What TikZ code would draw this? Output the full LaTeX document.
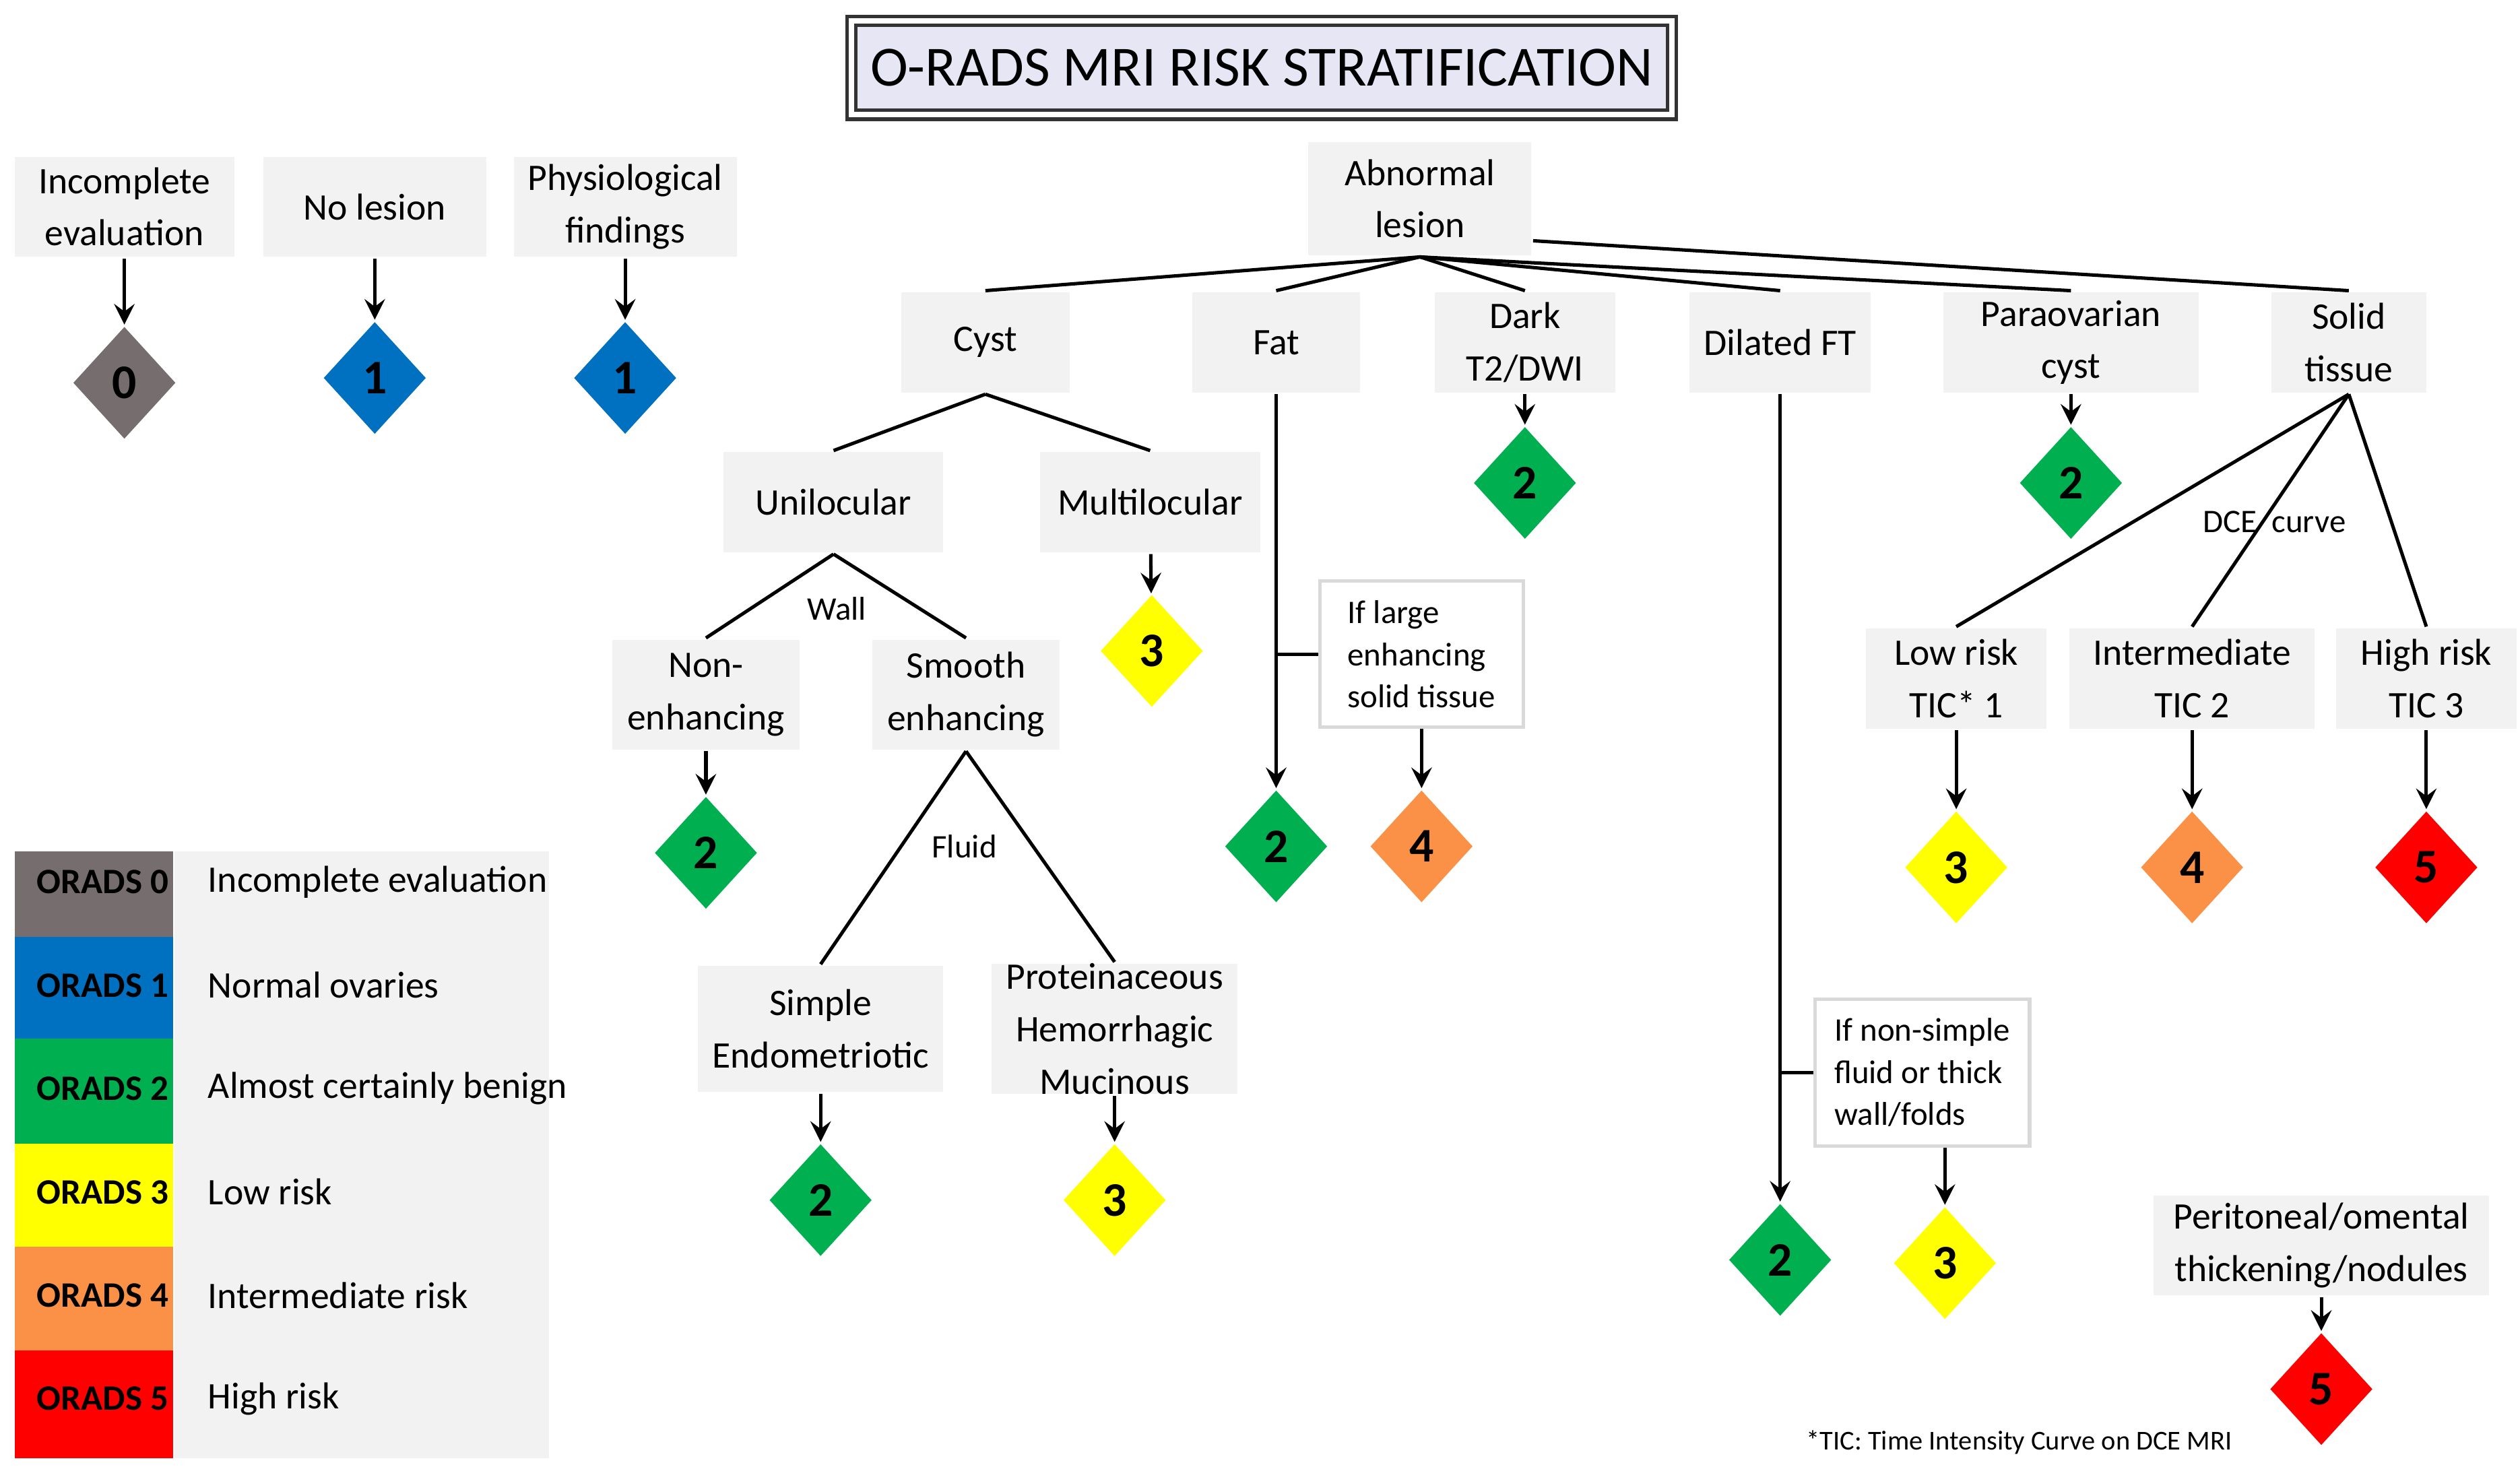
\documentclass[tikz,border=0pt]{standalone}
\usepackage{fontspec}
\setmainfont{Carlito}
\usetikzlibrary{arrows,shapes.geometric,positioning}
\definecolor{boxgray}{RGB}{242,242,242}
\definecolor{rads0}{RGB}{118,110,110}
\definecolor{rads1}{RGB}{0,112,192}
\definecolor{rads2}{RGB}{0,176,80}
\definecolor{rads3}{RGB}{255,255,0}
\definecolor{rads4}{RGB}{250,145,70}
\definecolor{rads5}{RGB}{255,0,0}
\definecolor{titlefill}{RGB}{230,230,245}
\begin{document}
\begin{tikzpicture}[x=0.1mm,y=-0.1mm,>=stealth,semithick,
    box/.style={fill=boxgray,align=center,font=\fontsize{6.6}{9.2}\selectfont,minimum height=6.2mm,inner sep=0pt},
    note/.style={draw=black!15,fill=white,align=left,font=\fontsize{5.8}{7.4}\selectfont,inner sep=1.2mm,minimum height=8.6mm},
    risk/.style={diamond,fill=#1,minimum width=6.4mm,minimum height=7mm,inner sep=0pt,font=\fontsize{8.5}{10}\selectfont\bfseries},
    lbl/.style={font=\fontsize{5.8}{7}\selectfont,fill=white,inner sep=1pt}]
    \useasboundingbox (0,0) rectangle (1560,908);
    % title
    \node[draw=black!80,double=white,double distance=1pt,line width=0.6pt,fill=titlefill,minimum width=47.6mm,minimum height=5.8mm,font=\fontsize{10}{12}\selectfont] (title) at (781,42) {O-RADS MRI RISK STRATIFICATION};
    % top row, no branching
    \node[box,minimum width=13.6mm] (incomplete) at (77,128) {Incomplete\\evaluation};
    \node[box,minimum width=13.8mm] (nolesion)   at (232,128) {No lesion};
    \node[box,minimum width=13.8mm] (physio)     at (387,128) {Physiological\\findings};
    \node[risk=rads0] (r_incomplete) at (77,237) {0};
    \node[risk=rads1] (r_nolesion)   at (232,234) {1};
    \node[risk=rads1] (r_physio)     at (387,234) {1};
    \draw[->] (incomplete) -- (r_incomplete);
    \draw[->] (nolesion) -- (r_nolesion);
    \draw[->] (physio) -- (r_physio);
    % abnormal lesion
    \node[box,minimum width=13.8mm,minimum height=7mm] (abnormal) at (879,123) {Abnormal\\lesion};
    \node[box,minimum width=10.4mm] (cyst)    at (610,212) {Cyst};
    \node[box,minimum width=10.4mm] (fat)     at (790,212) {Fat};
    \node[box,minimum width=11.2mm] (dark)    at (944,212) {Dark\\T2/DWI};
    \node[box,minimum width=11.2mm] (dilated) at (1102,212) {Dilated FT};
    \node[box,minimum width=15.8mm] (paraov)  at (1282,212) {Paraovarian\\cyst};
    \node[box,minimum width=9.6mm]  (solid)   at (1454,212) {Solid\\tissue};
    \draw (abnormal.south) -- (cyst.north);
    \draw (abnormal.south) -- (fat.north);
    \draw (abnormal.south) -- (dark.north);
    \draw (abnormal.south) -- (dilated.north);
    \draw (abnormal.south) -- (paraov.north);
    \draw (abnormal.south east) ++(0,-10) -- (solid.north);
    % cyst branch
    \node[box,minimum width=13.6mm] (unilocular)   at (516,311) {Unilocular};
    \node[box,minimum width=13.6mm] (multilocular) at (712,311) {Multilocular};
    \draw (cyst.south) -- (unilocular.north);
    \draw (cyst.south) -- (multilocular.north);
    \node[risk=rads3] (r_multi) at (713,403) {3};
    \draw[->] (multilocular) -- (r_multi);
    \node[box,minimum width=11.6mm,minimum height=6.8mm] (nonenh) at (437,430) {Non-\\enhancing};
    \node[box,minimum width=11.6mm,minimum height=6.8mm] (smooth) at (598,430) {Smooth\\enhancing};
    \draw (unilocular.south) -- (nonenh.north);
    \draw (unilocular.south) -- (smooth.north);
    \node[lbl] (wall) at (518,377) {Wall};
    \node[risk=rads2] (r_nonenh) at (437,528) {2};
    \draw[->] (nonenh) -- (r_nonenh);
    \node[box,minimum width=15.2mm,minimum height=7.8mm] (simple)  at (508,637) {Simple\\Endometriotic};
    \node[box,minimum width=15.2mm,minimum height=7.8mm] (protein) at (690,637) {Proteinaceous\\Hemorrhagic\\Mucinous};
    \draw (smooth.south) -- (simple.north);
    \draw (smooth.south) -- (protein.north);
    \node[lbl] (fluid) at (597,524) {Fluid};
    \node[risk=rads2] (r_simple)  at (508,743) {2};
    \node[risk=rads3] (r_protein) at (690,743) {3};
    \draw[->] (simple) -- (r_simple);
    \draw[->] (protein) -- (r_protein);
    % fat branch
    \node[risk=rads2] (r_fat) at (790,524) {2};
    \draw[->] (fat) -- (r_fat);
    \node[note,minimum width=12.6mm] (largesolid) at (880,405) {If large\\enhancing\\solid tissue};
    \coordinate (fatjoin) at (790,405);
    \draw (fatjoin) -- (largesolid);
    \node[risk=rads4] (r_largesolid) at (880,524) {4};
    \draw[->] (largesolid) -- (r_largesolid);
    % dark, paraovarian
    \node[risk=rads2] (r_dark)   at (944,299) {2};
    \node[risk=rads2] (r_paraov) at (1282,299) {2};
    \draw[->] (dark) -- (r_dark);
    \draw[->] (paraov) -- (r_paraov);
    % dilated FT branch
    \node[risk=rads2] (r_dilated) at (1102,780) {2};
    \draw[->] (dilated) -- (r_dilated);
    \node[note,minimum width=13mm] (nonsimple) at (1190,664) {If non-simple\\fluid or thick\\wall/folds};
    \coordinate (ftjoin) at (1102,664);
    \draw (ftjoin) -- (nonsimple);
    \node[risk=rads3] (r_nonsimple) at (1204,782) {3};
    \draw[->] (nonsimple.south -| r_nonsimple) -- (r_nonsimple);
    % solid tissue branch
    \node[box,minimum width=11.2mm] (lowrisk)  at (1211,420) {Low risk\\TIC* 1};
    \node[box,minimum width=15.2mm] (intrisk)  at (1357,420) {Intermediate\\TIC 2};
    \node[box,minimum width=11.2mm] (highrisk) at (1502,420) {High risk\\TIC 3};
    \draw (solid.south) -- (lowrisk.north);
    \draw (solid.south) -- (intrisk.north);
    \draw (solid.south) -- (highrisk.north);
    \node[lbl,fill=none] (dce) at (1408,323) {DCE~~curve};
    \node[risk=rads3] (r_lowrisk)  at (1211,537) {3};
    \node[risk=rads4] (r_intrisk)  at (1357,537) {4};
    \node[risk=rads5] (r_highrisk) at (1502,537) {5};
    \draw[->] (lowrisk) -- (r_lowrisk);
    \draw[->] (intrisk) -- (r_intrisk);
    \draw[->] (highrisk) -- (r_highrisk);
    % peritoneal
    \node[box,minimum width=20.8mm] (peritoneal) at (1437,771) {Peritoneal/omental\\thickening/nodules};
    \node[risk=rads5] (r_peritoneal) at (1437,860) {5};
    \draw[->] (peritoneal) -- (r_peritoneal);
    \node[font=\fontsize{4.8}{6}\selectfont] (footnote) at (1250,893) {*TIC: Time Intensity Curve on DCE MRI};
    % legend
    \fill[boxgray] (108,527) rectangle (340,903);
    \foreach \c/\top/\bot/\txt [count=\i from 0] in
        {rads0/527/580/Incomplete evaluation, rads1/580/643/Normal ovaries,
         rads2/643/708/Almost certainly benign, rads3/708/772/Low risk,
         rads4/772/836/Intermediate risk, rads5/836/903/High risk} {
        \fill[\c] (9,\top) rectangle (107,\bot);
        \node[anchor=west,font=\fontsize{6.3}{8}\selectfont] (legcode\i) at (10,546+64*\i) {\textbf{ORADS \i}};
        \node[anchor=west,font=\fontsize{6.6}{8}\selectfont] (legtext\i) at (116,546+64*\i) {\txt};
    }
\end{tikzpicture}
\end{document}
